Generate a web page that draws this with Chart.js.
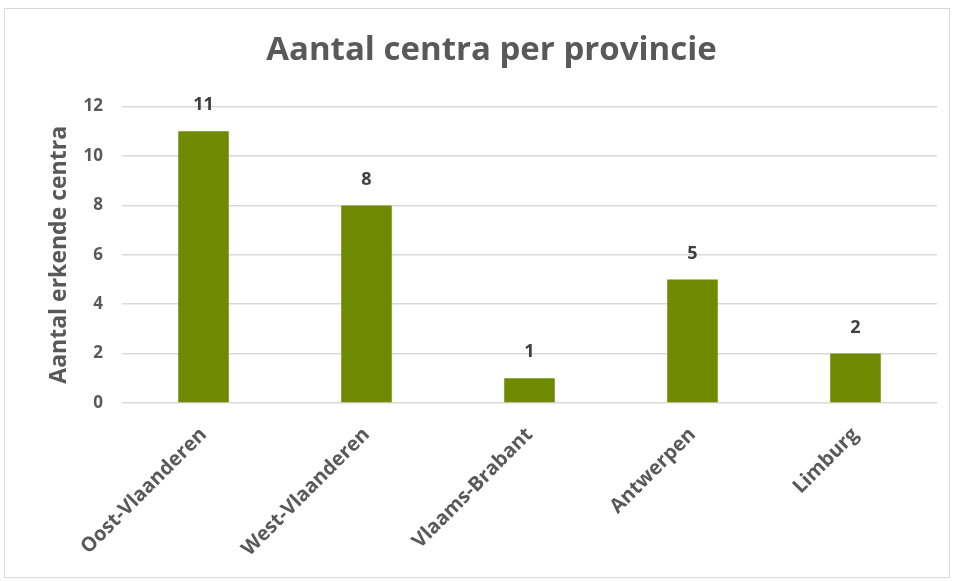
<!DOCTYPE html>
<html>
<head>
<meta charset="utf-8">
<script src="https://cdn.jsdelivr.net/npm/chart.js@4/dist/chart.umd.min.js"></script>
<style>
  html, body { margin: 0; padding: 0; background: #fff; }
  #wrap { position: relative; width: 955px; height: 581px; }
  #frame { position: absolute; left: 4px; top: 8px; width: 946px; height: 570px; border: 1.5px solid #d9d9d9; box-sizing: border-box; pointer-events: none; }
  canvas { position: absolute; left: 0; top: 0; }
</style>
</head>
<body>
<div id="wrap">
  <canvas id="chart" width="955" height="581"></canvas>
  <div id="frame"></div>
</div>
<script>
// Gegevens
const provincies = ['Oost-Vlaanderen', 'West-Vlaanderen', 'Vlaams-Brabant', 'Antwerpen', 'Limburg'];
const aantalCentra = [11, 8, 1, 5, 2];
const yTicks = [0, 2, 4, 6, 8, 10, 12];

const textColor = '#595959';
const fontFamily = "'Open Sans', 'Noto Sans', sans-serif";

// Waarden boven de staven tekenen
const valueLabels = {
    id: 'valueLabels',
    afterDatasetsDraw(chart) {
        const ctx = chart.ctx;
        const meta = chart.getDatasetMeta(0);
        ctx.save();
        ctx.font = `bold 18px ${fontFamily}`;
        ctx.fillStyle = '#404040';
        ctx.textAlign = 'center';
        ctx.textBaseline = 'middle';
        meta.data.forEach((bar, i) => {
            ctx.fillText(String(aantalCentra[i]), bar.x, bar.y - 26);
        });
        ctx.restore();
    }
};

new Chart(document.getElementById('chart').getContext('2d'), {
    type: 'bar',
    data: {
        labels: provincies,
        datasets: [{
            data: aantalCentra,
            backgroundColor: '#6f8a00',
            borderWidth: 0,
            barPercentage: 0.31,
            categoryPercentage: 1
        }]
    },
    options: {
        responsive: false,
        animation: false,
        devicePixelRatio: 1,
        layout: { padding: { top: 8, left: 46, right: 18, bottom: 3 } },
        plugins: {
            legend: { display: false },
            tooltip: { enabled: false },
            title: {
                display: true,
                text: 'Aantal centra per provincie',
                color: textColor,
                font: { family: fontFamily, size: 33, weight: 'bold' },
                padding: { top: 23, bottom: 36 }
            }
        },
        scales: {
            x: {
                grid: { display: false },
                border: { display: false },
                ticks: {
                    color: textColor,
                    font: { family: fontFamily, size: 20, weight: 'bold' },
                    minRotation: 45,
                    maxRotation: 45,
                    padding: 12
                },
                afterFit(scale) { scale.height = 175; }
            },
            y: {
                min: 0,
                max: 12,
                afterBuildTicks(scale) { scale.ticks = yTicks.map(v => ({ value: v })); },
                grid: { color: '#d9d9d9', lineWidth: 1.5, drawTicks: false },
                border: { display: false },
                ticks: {
                    color: textColor,
                    font: { family: fontFamily, size: 17, weight: 'bold' },
                    padding: 19
                },
                title: {
                    display: true,
                    text: 'Aantal erkende centra',
                    color: textColor,
                    font: { family: fontFamily, size: 23, weight: 'bold' },
                    padding: { top: 0, bottom: 0 }
                },
                afterFit(scale) { scale.width = 76; }
            }
        }
    },
    plugins: [valueLabels]
});
</script>
</body>
</html>
